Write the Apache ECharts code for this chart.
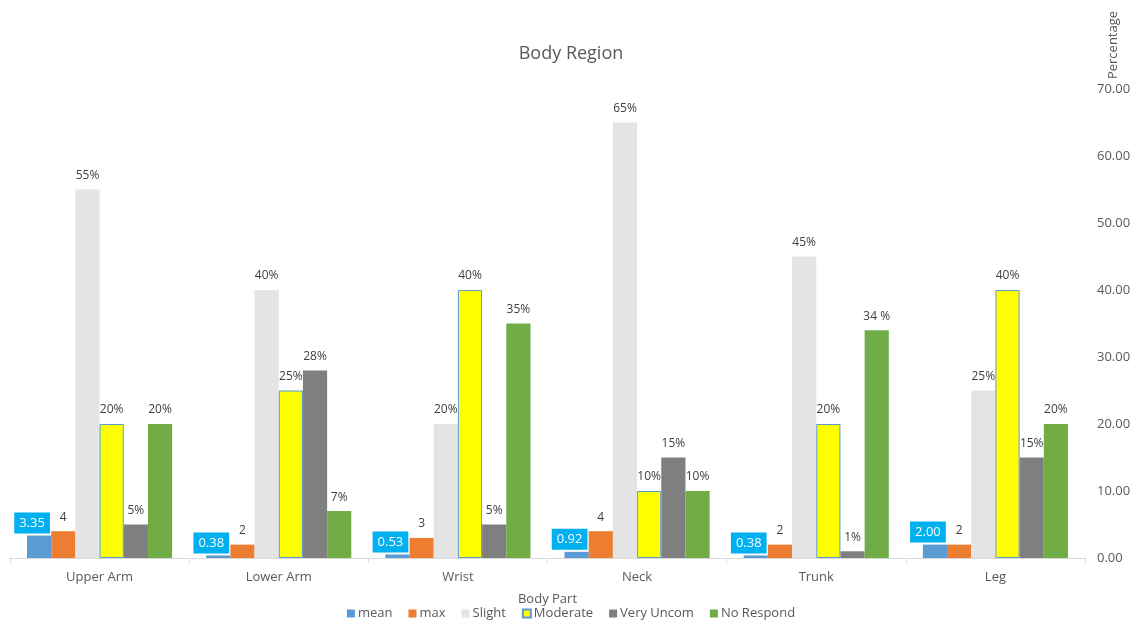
<!DOCTYPE html>
<html>
<head>
<meta charset="utf-8">
<script src="https://cdn.jsdelivr.net/npm/echarts@6/dist/echarts.min.js"></script>
<style>html,body{margin:0;padding:0;background:#fff}#c{width:1142px;height:623px}</style>
</head>
<body>
<div id="c"></div>
<script>
const categories = ['Upper Arm', 'Lower Arm', 'Wrist', 'Neck', 'Trunk', 'Leg'];
const seriesNames = ['mean', 'max', 'Slight', 'Moderate', 'Very Uncom', 'No Respond'];
const meanVals = [3.35, 0.38, 0.53, 0.92, 0.38, 2.00];
const maxVals = [4, 2, 3, 4, 2, 2];
const slightVals = [55, 40, 20, 65, 45, 25];
const moderateVals = [20, 25, 40, 10, 20, 40];
const veryUncomVals = [5, 28, 5, 15, 1, 15];
const noRespondVals = [20, 7, 35, 10, 34, 20];
const yTicks = [0, 10, 20, 30, 40, 50, 60, 70];

const font = 'Open Sans, Noto Sans, sans-serif';
const colors = ['#5B9BD5', '#ED7D31', '#E4E4E4', '#FFFF00', '#7F7F7F', '#70AD47'];
const allVals = [meanVals, maxVals, slightVals, moderateVals, veryUncomVals, noRespondVals];

function pctLabel(p) { return p.value + '%'; }

const series = allVals.map((vals, i) => {
  const s = {
    name: seriesNames[i],
    type: 'bar',
    data: vals,
    itemStyle: { color: colors[i] },
    label: {
      show: true, position: 'top', distance: 8,
      color: '#404040', fontSize: 12, fontFamily: font
    }
  };
  if (i === 0) {
    s.label = {
      show: true, position: 'top', distance: 2, offset: [-7, 0],
      formatter: p => p.value.toFixed(2),
      color: '#fff', fontSize: 13, fontFamily: font,
      backgroundColor: '#00B0F0', padding: [4, 5, 4, 5]
    };
  } else if (i === 1) {
    s.label.formatter = p => String(p.value);
  } else {
    s.label.formatter = (i === 5) ? (p => (p.dataIndex === 4 ? p.value + ' %' : p.value + '%')) : pctLabel;
  }
  if (i === 3) {
    s.itemStyle = { color: '#FFFF00', borderColor: '#5B9BD5', borderWidth: 1 };
  }
  return s;
});

const chart = echarts.init(document.getElementById('c'));
chart.setOption({
  animation: false,
  backgroundColor: '#fff',
  title: {
    text: 'Body Region', left: 'center', top: 40,
    textStyle: { fontFamily: font, fontSize: 18, fontWeight: 'normal', color: '#595959' }
  },
  legend: {
    top: 602, left: 'center',
    itemWidth: 8, itemHeight: 8, itemGap: 16,
    icon: 'rect',
    textStyle: { fontFamily: font, fontSize: 13, color: '#595959', padding: [0, 0, 0, -2] },
    data: seriesNames
  },
  graphic: [{
    type: 'text', x: 1113, y: 45, rotation: Math.PI / 2,
    style: { text: 'Percentage', fill: '#595959', font: '13px ' + font, align: 'center', verticalAlign: 'middle' }
  }],
  grid: { left: 10, right: 57, top: 89, bottom: 65 },
  xAxis: {
    type: 'category',
    data: categories,
    name: 'Body Part', nameLocation: 'middle', nameGap: 35,
    nameTextStyle: { fontFamily: font, fontSize: 13, color: '#595959' },
    axisLine: { lineStyle: { color: '#D9D9D9' } },
    axisTick: { show: true, length: 5, lineStyle: { color: '#D9D9D9' } },
    axisLabel: { fontFamily: font, fontSize: 13, color: '#595959', margin: 13 }
  },
  yAxis: {
    type: 'value', position: 'right',
    min: yTicks[0], max: yTicks[yTicks.length - 1], interval: 10,
    splitLine: { show: false },
    axisLine: { show: false },
    axisTick: { show: false },
    axisLabel: { fontFamily: font, fontSize: 13, color: '#595959', margin: 12, formatter: v => v.toFixed(2) }
  },
  series: series.map(s => Object.assign(s, { barGap: '0%', barCategoryGap: '19%' }))
});
</script>
</body>
</html>
